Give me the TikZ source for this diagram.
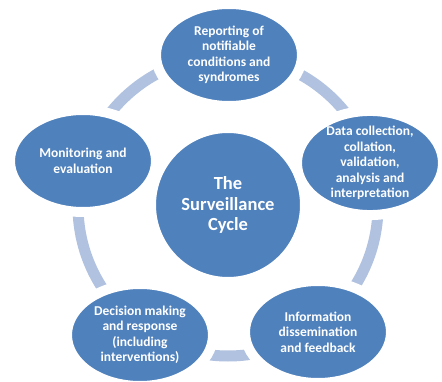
\documentclass[tikz,border=0pt]{standalone}
\usepackage{fontspec}
\setmainfont{Carlito}
\usetikzlibrary{shapes.geometric}
\definecolor{stageblue}{HTML}{4F81BD}
\definecolor{ringblue}{HTML}{B0C2DF}
\begin{document}
\begin{tikzpicture}[x=1pt,y=1pt]
    \tikzstyle{stage}=[ellipse,fill=stageblue,draw=white,line width=10pt,minimum width=146pt,minimum height=102pt,inner sep=0pt,align=center,text=white,font=\bfseries\fontsize{13.5}{15.5}\selectfont]
    \tikzstyle{hub}=[circle,fill=stageblue,draw=white,line width=4pt,minimum size=148pt,inner sep=0pt,align=center,text=white,font=\bfseries\fontsize{18.5}{20.5}\selectfont]
    \useasboundingbox (0,0) rectangle (442,381);
    \coordinate (mid) at (228,175);
    \draw[ringblue,line width=11pt] (mid) circle (150pt);
    \node[hub] (cycle) at (228,176) {The\\Surveillance\\Cycle};
    \node[stage] (report) at (229,326) {Reporting of\\notifiable\\conditions and\\syndromes};
    \node[stage] (data) at (370,218) {Data collection,\\collation,\\validation,\\analysis and\\interpretation};
    \node[stage] (info) at (318,49) {Information\\dissemination\\and feedback};
    \node[stage] (decide) at (140,46) {Decision making\\and response\\(including\\interventions)};
    \node[stage] (monitor) at (83,220) {Monitoring and\\evaluation};
\end{tikzpicture}
\end{document}
